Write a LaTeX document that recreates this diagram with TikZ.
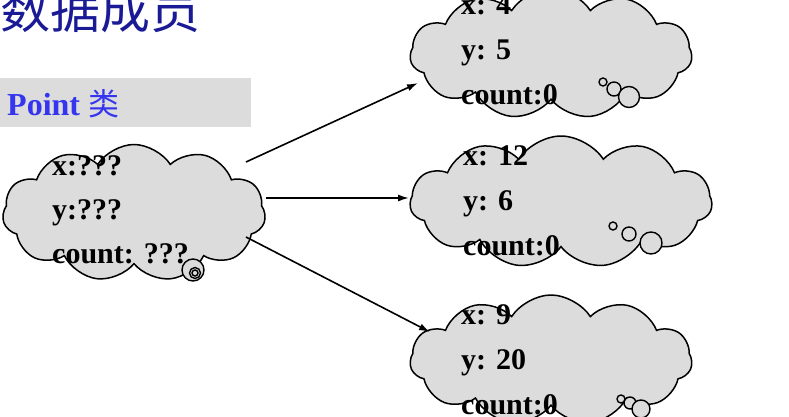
\documentclass[tikz,border=0pt]{standalone}
\usepackage{fontspec}
\setmainfont{Liberation Serif}
\newfontfamily\cjk{Noto Sans CJK SC}
\usetikzlibrary{shapes.symbols,arrows.meta}
\definecolor{cloudgray}{HTML}{DCDCDC}
\definecolor{titleblue}{HTML}{1A1A96}
\definecolor{pointblue}{HTML}{3535F0}
\begin{document}
\begin{tikzpicture}[x=1pt,y=-1pt,
  cloudbox/.style={cloud, cloud puffs=11, cloud puff arc=115, draw=black, line width=1.5pt, fill=cloudgray, inner sep=0pt},
  bubble/.style={circle, draw=black, line width=1.4pt, fill=cloudgray, inner sep=0pt},
  field/.style={anchor=base west, inner sep=0pt, font=\fontsize{30}{30}\selectfont\bfseries},
  link/.style={line width=1.6pt, -{Latex[length=11pt,width=7pt]}}]
\useasboundingbox (0,0) rectangle (789,417);
% title
\node[anchor=base west, inner sep=0pt, text=titleblue, font=\fontsize{50}{50}\selectfont\cjk] (title) at (0,29) {数据成员};
% class bar
\fill[cloudgray] (0,78) rectangle (251,127);
\node[anchor=base west, inner sep=0pt, text=pointblue, font=\fontsize{32}{32}\selectfont\bfseries] (cls) at (7,116) {Point {\mdseries\fontsize{31}{31}\selectfont\cjk 类}};
% main cloud
\node[cloudbox, minimum width=263pt, minimum height=137pt] (c0) at (134,213) {};
\node[bubble, minimum size=22pt] (b0a) at (193,270) {};
\node[bubble, minimum size=11pt] (b0b) at (195,273) {};
\node[bubble, minimum size=6pt] (b0c) at (195,273) {};
\node[field] (t0x) at (52,175) {x:???};
\node[field] (t0y) at (52,219) {y:???};
\node[field] (t0c) at (52,263) {count: ???};
% top cloud
\node[cloudbox, minimum width=282pt, minimum height=130pt] (c1) at (551,54) {};
\node[bubble, minimum size=8pt] (b1a) at (603,82) {};
\node[bubble, minimum size=14pt] (b1b) at (614,89) {};
\node[bubble, minimum size=21pt] (b1c) at (629,97) {};
\node[field] (t1x) at (461,15) {x: 4};
\node[field] (t1y) at (461,60) {y: 5};
\node[field] (t1c) at (461,105) {count:0};
% middle cloud
\node[cloudbox, minimum width=302pt, minimum height=132pt] (c2) at (561,202) {};
\node[bubble, minimum size=8pt] (b2a) at (613,226) {};
\node[bubble, minimum size=14pt] (b2b) at (629,234) {};
\node[bubble, minimum size=22pt] (b2c) at (651,243) {};
\node[field] (t2x) at (463,165) {x: 12};
\node[field] (t2y) at (463,210) {y: 6};
\node[field] (t2c) at (463,255) {count:0};
% bottom cloud
\node[cloudbox, minimum width=282pt, minimum height=130pt] (c3) at (551,360) {};
\node[bubble, minimum size=8pt] (b3a) at (621,399) {};
\node[bubble, minimum size=12pt] (b3b) at (630,403) {};
\node[bubble, minimum size=18pt] (b3c) at (641,409) {};
\node[field] (t3x) at (461,324) {x: 9};
\node[field] (t3y) at (461,369) {y: 20};
\node[field] (t3c) at (461,414) {count:0};
% connectors
\draw[link] ([shift={(112,-51)}]c0.center) -- ([shift={(-133,29)}]c1.center);
\draw[link] ([shift={(132,-15)}]c0.center) -- ([shift={(-152,-4)}]c2.center);
\draw[link] ([shift={(112,24)}]c0.center) -- ([shift={(-121,-28)}]c3.center);
\end{tikzpicture}
\end{document}
